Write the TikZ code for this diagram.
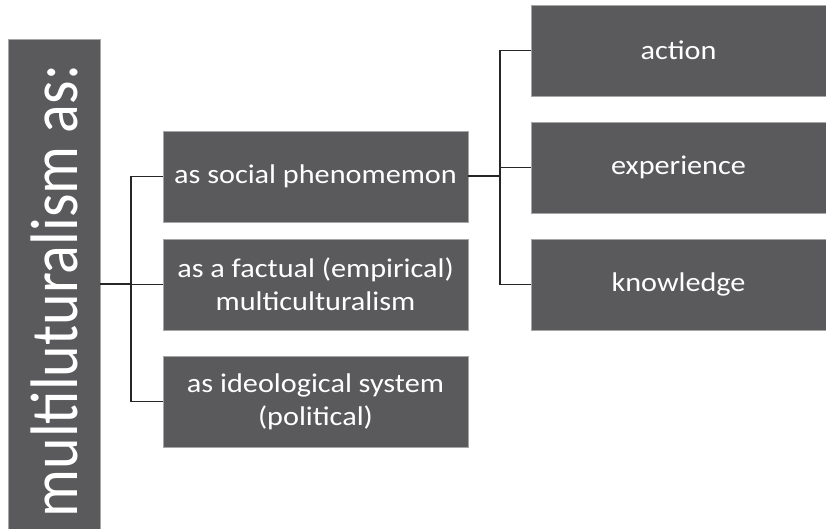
\documentclass[tikz,border=0pt]{standalone}
\usepackage{fontspec}
\setmainfont{Carlito}[FakeStretch=1.12]
\newfontfamily\tallfont{Carlito}
\usepackage{graphicx}
\usepackage{xcolor}
\usepackage{tikz}
\usetikzlibrary{positioning}
\definecolor{boxgray}{RGB}{90,90,92}
\tikzset{
	box/.style={fill=boxgray, draw=black!35, line width=0.6pt, text=white, align=center, inner sep=0pt, font=\fontsize{27}{33}\selectfont},
	midbox/.style={box, minimum width=305pt, minimum height=91pt},
	sidebox/.style={box, minimum width=295pt, minimum height=91pt},
	link/.style={draw=black!85, line width=1.3pt}
}

\begin{document}
\begin{tikzpicture}[x=1pt, y=-1pt]
	\useasboundingbox (0,0) rectangle (826,529);
	\node[box, rotate=90, minimum width=490pt, minimum height=92pt] (0) at (54,284) {\tallfont\fontsize{60}{60}\selectfont\scalebox{1}[1.12]{multiluturalism as:\hspace*{14pt}}};
    \node[midbox] (1) at (315.5,176.5) {as social phenomemon};
    \node[midbox] (2) at (315.5,284.5) {as a factual (empirical)\\multiculturalism};
    \node[midbox] (3) at (315.5,401.5) {as ideological system\\(political)};
    \node[sidebox] (4) at (678.5,50.5) {action};
    \node[sidebox] (5) at (678.5,167.5) {experience};
    \node[sidebox] (6) at (678.5,284.5) {knowledge};
    \coordinate (a) at (131,284);
    \coordinate (b) at (500,176.5);
    \draw[link, line width=2pt] (0) -- (a);
    \draw[link] (1.west) -| (a);
    \draw[link] (2.west) -| (a);
    \draw[link] (3.west) -| (a);
    \draw[link, line width=2pt] (1) -- (b);
    \draw[link] (4.west) -| (b);
    \draw[link] (5.west) -| (b);
    \draw[link] (6.west) -| (b);
\end{tikzpicture}
\end{document}
